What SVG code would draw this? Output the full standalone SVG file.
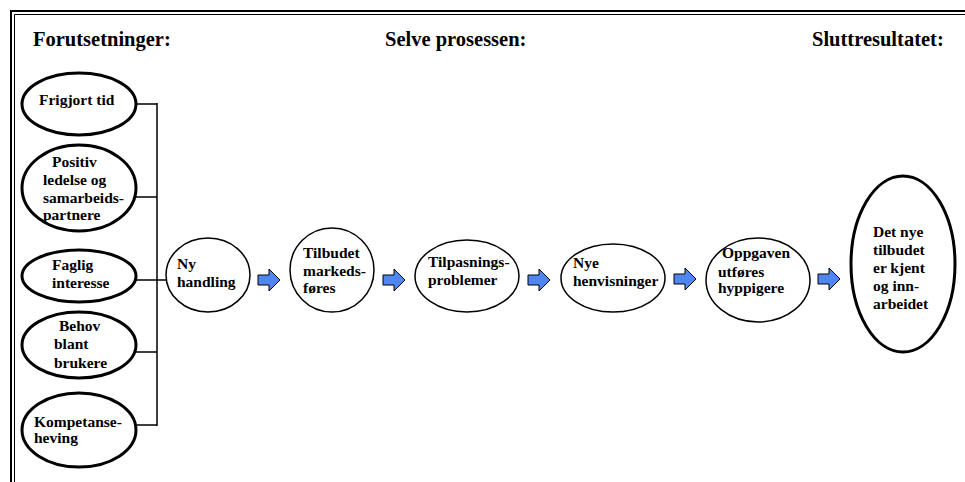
<svg xmlns="http://www.w3.org/2000/svg" width="965" height="482" viewBox="0 0 965 482">
<style>
text{font-family:"Liberation Serif","Times New Roman",serif;font-weight:bold;fill:#000}
.h{font-size:20.5px}
.t{font-size:15.5px}
.thick{fill:#fff;stroke:#000;stroke-width:3}
.thin{fill:#fff;stroke:#000;stroke-width:1.5}
.ln{stroke:#000;stroke-width:1.5;fill:none}
.arr{fill:#4f86f0;stroke:#000;stroke-width:1}
.fr{stroke:#000;fill:none}
</style>
<defs>
<path id="ba" d="M0,-5 H11 V-11 L22,0 L11,11 V5 H0 Z"/>
</defs>
<rect width="965" height="482" fill="#fff"/>
<g id="frame">
<path class="fr" stroke-width="2" d="M11,482 V11 H965"/>
<path class="fr" stroke-width="1" d="M14.5,482 V14.5 H965"/>
</g>
<g id="headers">
<text class="h" x="33" y="46">Forutsetninger:</text>
<text class="h" x="385" y="46">Selve prosessen:</text>
<text class="h" x="812" y="46">Sluttresultatet:</text>
</g>
<g id="connectors">
<path class="ln" d="M136,104 H157 M136,197 H157 M136,280 H166 M136,352 H157 M136,425 H157 M157,103 V426"/>
<use href="#ba" class="arr" x="258" y="280"/>
<use href="#ba" class="arr" x="383" y="280"/>
<use href="#ba" class="arr" x="528" y="280"/>
<use href="#ba" class="arr" x="674" y="279"/>
<use href="#ba" class="arr" x="818" y="279"/>
</g>
<g id="n1">
<ellipse class="thick" cx="79" cy="104" rx="57" ry="31"/>
<text class="t" x="39" y="105">Frigjort tid</text>
</g>
<g id="n2">
<ellipse class="thick" cx="79" cy="188" rx="57" ry="43"/>
<text class="t"><tspan x="52" y="167">Positiv</tspan><tspan x="43" y="185">ledelse og</tspan><tspan x="43" y="203">samarbeids-</tspan><tspan x="43" y="220">partnere</tspan></text>
</g>
<g id="n3">
<ellipse class="thick" cx="79" cy="276" rx="57" ry="26"/>
<text class="t"><tspan x="52" y="270">Faglig</tspan><tspan x="52" y="288">interesse</tspan></text>
</g>
<g id="n4">
<ellipse class="thick" cx="79" cy="345" rx="57" ry="33"/>
<text class="t"><tspan x="59" y="331">Behov</tspan><tspan x="54" y="349">blant</tspan><tspan x="54" y="368">brukere</tspan></text>
</g>
<g id="n5">
<ellipse class="thick" cx="79" cy="430" rx="57" ry="37"/>
<text class="t"><tspan x="34" y="427">Kompetanse-</tspan><tspan x="34" y="443">heving</tspan></text>
</g>
<g id="p1">
<ellipse class="thin" cx="208" cy="275" rx="42" ry="37"/>
<text class="t"><tspan x="177" y="269">Ny</tspan><tspan x="177" y="287">handling</tspan></text>
</g>
<g id="p2">
<ellipse class="thin" cx="332" cy="270" rx="42" ry="42"/>
<text class="t"><tspan x="303" y="258">Tilbudet</tspan><tspan x="303" y="276">markeds-</tspan><tspan x="303" y="293">føres</tspan></text>
</g>
<g id="p3">
<ellipse class="thin" cx="467" cy="276" rx="52" ry="36"/>
<text class="t"><tspan x="428" y="267">Tilpasnings-</tspan><tspan x="428" y="285">problemer</tspan></text>
</g>
<g id="p4">
<ellipse class="thin" cx="613" cy="278" rx="52" ry="34"/>
<text class="t"><tspan x="573" y="268">Nye</tspan><tspan x="573" y="286">henvisninger</tspan></text>
</g>
<g id="p5">
<ellipse class="thin" cx="758" cy="280" rx="52" ry="42"/>
<text class="t"><tspan x="722" y="258">Oppgaven</tspan><tspan x="718" y="277">utføres</tspan><tspan x="718" y="293">hyppigere</tspan></text>
</g>
<g id="result">
<ellipse class="thick" cx="903" cy="264" rx="52" ry="88"/>
<text class="t"><tspan x="873" y="237">Det nye</tspan><tspan x="873" y="255">tilbudet</tspan><tspan x="873" y="273">er kjent</tspan><tspan x="873" y="291">og inn-</tspan><tspan x="873" y="309">arbeidet</tspan></text>
</g>
</svg>
